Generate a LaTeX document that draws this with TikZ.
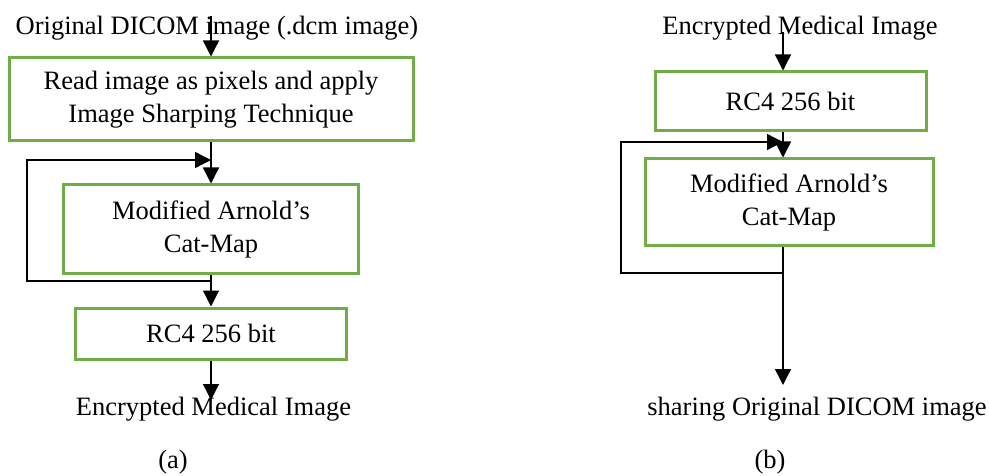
\documentclass[tikz,border=0pt]{standalone}
\usepackage{fontspec}
\setmainfont{Liberation Serif}
\usetikzlibrary{arrows.meta}
\definecolor{boxgreen}{RGB}{112,173,71}
\begin{document}
\begin{tikzpicture}[x=1pt,y=-1pt,
  every node/.style={font=\fontsize{26.5}{33}\selectfont, inner sep=0pt},
  gbox/.style={draw=boxgreen, line width=3pt, align=center},
  lbl/.style={anchor=base},
  arr/.style={-{Triangle[width=16pt,length=16pt]}, line width=1.3pt},
  ln/.style={line width=1.3pt}]
\useasboundingbox (0,0) rectangle (989,476);
% (a)
\node[lbl] (ta) at (217,35) {Original DICOM image (.dcm image)};
\node[gbox, minimum width=404pt, minimum height=83pt] (a1) at (211,99.5) {Read image as pixels and apply\\Image Sharping Technique};
\node[gbox, minimum width=295pt, minimum height=88pt] (a2) at (211,229) {Modified Arnold’s\\Cat-Map};
\node[gbox, minimum width=271pt, minimum height=51pt] (a3) at (211,333.5) {RC4 256 bit};
\node[lbl] (ea) at (213.5,415) {Encrypted Medical Image};
\node[lbl] (capa) at (173,468) {(a)};
\coordinate (sa) at (211,16);
\coordinate (ja) at (211,281);
\coordinate (ka) at (211,160);
\coordinate (la) at (27,281);
\coordinate (ma) at (27,160);
\coordinate (fa) at (211,400);
\draw[arr] (sa) -- (a1.north);
\draw[arr] (a1.south) -- (a2.north);
\draw[arr] (a2.south) -- (a3.north);
\draw[arr] (a3.south) -- (fa);
\draw[arr] (ja) -- (la) -- (ma) -- (ka);
% (b)
\node[lbl] (tb) at (800,35) {Encrypted Medical Image};
\node[gbox, minimum width=271pt, minimum height=59pt] (b1) at (790.5,101.5) {RC4 256 bit};
\node[gbox, minimum width=288pt, minimum height=87pt] (b2) at (789,202.5) {Modified Arnold’s\\Cat-Map};
\node[lbl] (eb) at (817,415) {sharing Original DICOM image};
\node[lbl] (capb) at (770,468) {(b)};
\coordinate (sb) at (783,32);
\coordinate (jb) at (783,273);
\coordinate (kb) at (783,142);
\coordinate (lb) at (621,273);
\coordinate (mb) at (621,142);
\coordinate (fb) at (783,385);
\draw[arr] (sb) -- (b1.north -| sb);
\draw[arr] (b1.south -| sb) -- (b2.north -| sb);
\draw[arr] (b2.south -| sb) -- (fb);
\draw[arr] (jb) -- (lb) -- (mb) -- (kb);
\end{tikzpicture}
\end{document}
